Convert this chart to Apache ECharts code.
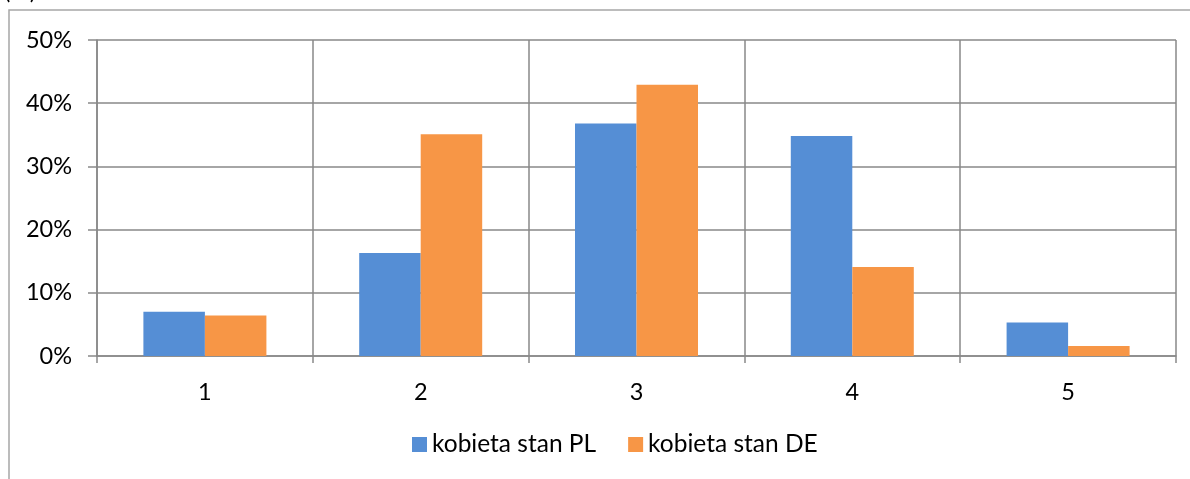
<!DOCTYPE html>
<html>
<head>
    <meta charset="UTF-8">
    <title></title>
    <script type="text/javascript" src="https://cdn.jsdelivr.net/npm/echarts@6/dist/echarts.min.js"></script>
    <style>
        html, body { margin: 0; padding: 0; background: #fff; }
        #wykres { width: 1190px; height: 479px; }
    </style>
</head>
<body>
<div id="wykres"></div>
<script>
    // dane
    var kategorie = ['1', '2', '3', '4', '5'];
    var stanPL = [0.070, 0.163, 0.368, 0.348, 0.053];
    var stanDE = [0.064, 0.351, 0.429, 0.141, 0.016];
    var nazwy = ['kobieta stan PL', 'kobieta stan DE'];

    var font = 'Lato';
    var szary = '#898989';

    var myChart = echarts.init(document.getElementById('wykres'));
    myChart.setOption({
        animation: false,
        textStyle: { fontFamily: font },
        graphic: [{
            type: 'rect',
            shape: { x: 9, y: 10, width: 1300, height: 700 },
            style: { fill: 'none', stroke: '#a6a6a6', lineWidth: 1.5 }
        }, {
            type: 'text',
            left: 4, top: -21,
            style: { text: '(%)', font: '24px Lato', fill: '#000' }
        }],
        legend: {
            data: nazwy,
            bottom: 17,
            left: 407,
            itemWidth: 15,
            itemHeight: 15,
            itemGap: 32,
            icon: 'rect',
            textStyle: { fontSize: 24.5, color: '#000', fontFamily: font }
        },
        grid: {
            left: 97,
            right: 14,
            top: 40,
            bottom: 123
        },
        xAxis: {
            type: 'category',
            data: kategorie,
            axisLine: { lineStyle: { color: szary, width: 1.5 } },
            axisTick: { show: true, length: 7, lineStyle: { color: szary, width: 1.5 } },
            axisLabel: { fontSize: 23.5, color: '#000', margin: 24 },
            splitLine: { show: true, lineStyle: { color: szary, width: 1.5 } }
        },
        yAxis: {
            type: 'value',
            min: 0,
            max: 0.5,
            interval: 0.1,
            axisLine: { show: true, lineStyle: { color: szary, width: 1.5 } },
            axisTick: { show: true, length: 9, lineStyle: { color: szary, width: 1.5 } },
            axisLabel: {
                fontSize: 23.5, color: '#000', margin: 25,
                formatter: function (v) { return Math.round(v * 100) + '%'; }
            },
            splitLine: { show: true, lineStyle: { color: szary, width: 1.5 } }
        },
        series: [{
            name: nazwy[0],
            type: 'bar',
            data: stanPL,
            barGap: '0%',
            barCategoryGap: '43%',
            itemStyle: { color: '#558ED5' }
        }, {
            name: nazwy[1],
            type: 'bar',
            data: stanDE,
            barGap: '0%',
            barCategoryGap: '43%',
            itemStyle: { color: '#F79646' }
        }]
    });
</script>
</body>
</html>
